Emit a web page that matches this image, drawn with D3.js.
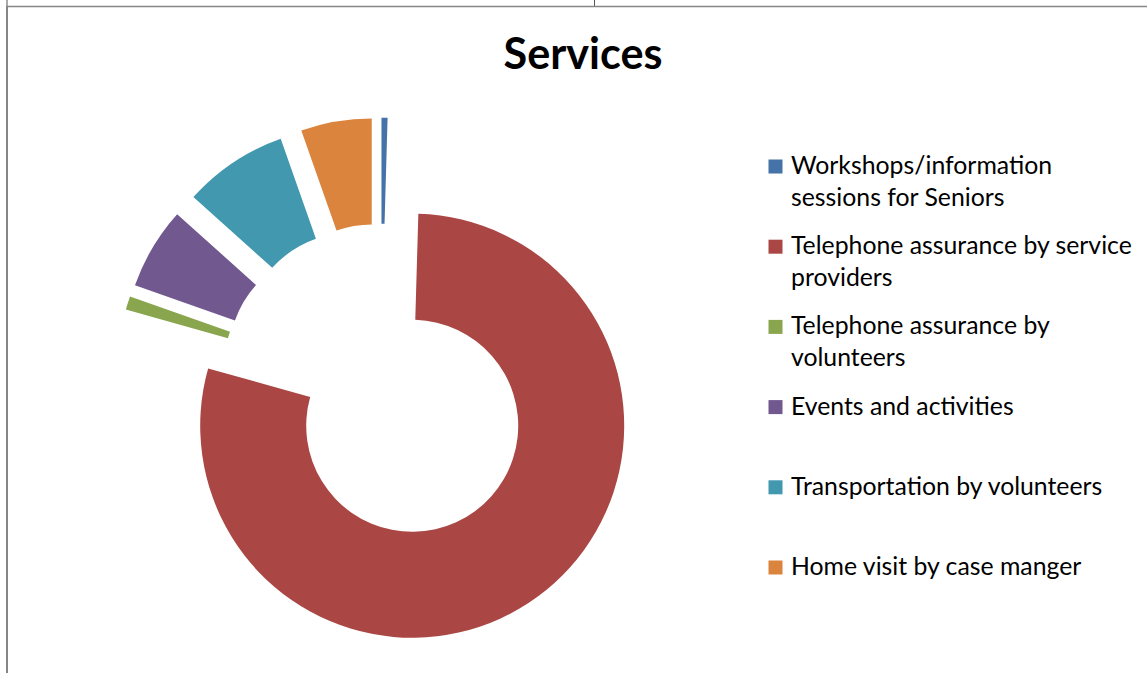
<!DOCTYPE html>
<html>

<head>
    <meta charset=utf-8 />
    <script src="https://cdn.jsdelivr.net/npm/d3@7"></script>
    <title>Services</title>
    <style>
        html,
        body {
            margin: 0;
            padding: 0;
            background: #fff;
        }

        svg {
            display: block;
        }

        text {
            font-family: Lato, "Liberation Sans", sans-serif;
        }
    </style>
</head>

<body>
    <div id="svg-canvas"></div>
    <script>
        // data (share of services, %)
        var categories = [
            'Workshops/information sessions for Seniors',
            'Telephone assurance by service providers',
            'Telephone assurance by volunteers',
            'Events and activities',
            'Transportation by volunteers',
            'Home visit by case manger'
        ];
        var values = [0.46, 78.90, 1.03, 6.25, 7.97, 5.39];
        var colors = ['#4572A7', '#AA4643', '#89A54E', '#71588F', '#4198AF', '#DB843D'];
        var title = 'Services';
    </script>
    <script>
        var width = 1147;
        var height = 673;

        var svg = d3.select('#svg-canvas').append('svg')
            .attr('width', width)
            .attr('height', height)

        // worksheet grid + chart frame
        svg.append('line')
            .attr('x1', 7).attr('x2', 7).attr('y1', 0).attr('y2', 6)
            .attr('stroke', '#555').attr('stroke-width', 1)
        svg.append('line')
            .attr('x1', 594.5).attr('x2', 594.5).attr('y1', 0).attr('y2', 6)
            .attr('stroke', '#555').attr('stroke-width', 1)
        svg.append('line')
            .attr('x1', 6).attr('x2', width).attr('y1', 6.5).attr('y2', 6.5)
            .attr('stroke', '#868686').attr('stroke-width', 1.5)
        svg.append('line')
            .attr('x1', 7).attr('x2', 7).attr('y1', 6).attr('y2', height)
            .attr('stroke', '#868686').attr('stroke-width', 2)

        // title, fitted to the reference width
        var titleText = svg.append('text')
            .attr('x', 583)
            .attr('y', 69)
            .attr('text-anchor', 'middle')
            .attr('font-weight', 'bold')
            .attr('font-size', 40)
            .attr('fill', '#000')
            .text(title)
        var tw = titleText.node().getComputedTextLength();
        titleText.attr('font-size', 40 * 159 / tw);

        // exploded doughnut
        var cx = 380.7, cy = 382.9;
        var outerR = 212, innerR = 106, explode = 53.2;

        var pie = d3.pie().sort(null).value(d => d);
        var arc = d3.arc().innerRadius(innerR).outerRadius(outerR);
        var arcs = pie(values);

        var g = svg.append('g')
            .attr('transform', `translate(${cx}, ${cy})`)

        g.selectAll('path')
            .data(arcs)
            .enter().append('path')
            .attr('d', arc)
            .attr('fill', (d, i) => colors[i])
            .attr('transform', d => {
                var a = (d.startAngle + d.endAngle) / 2;
                return `translate(${explode * Math.sin(a)}, ${-explode * Math.cos(a)})`;
            })

        // legend
        var legendY = d3.scaleLinear().domain([0, categories.length - 1]).range([174, 575]);
        var legend = svg.append('g');

        // fit font size so the longest wrapped line matches the reference
        var probe = legend.append('text').attr('font-size', 22).text('Telephone assurance by service');
        var fontSize = 22 * 341 / probe.node().getComputedTextLength();
        probe.attr('font-size', fontSize);
        var maxLine = 346;

        function measure(s) {
            probe.text(s);
            return probe.node().getComputedTextLength();
        }

        function wrap(name) {
            var lines = [];
            var line = [];
            name.split(' ').forEach(function (w) {
                var test = line.concat([w]).join(' ');
                if (line.length && measure(test) > maxLine) {
                    lines.push(line.join(' '));
                    line = [w];
                } else {
                    line.push(w);
                }
            });
            lines.push(line.join(' '));
            return lines;
        }

        var wrapped = categories.map(wrap);
        probe.remove();

        categories.forEach(function (name, i) {
            var y = legendY(i);
            legend.append('rect')
                .attr('x', 768.5)
                .attr('y', y - 14.5)
                .attr('width', 14)
                .attr('height', 14)
                .attr('fill', colors[i])

            var t = legend.append('text')
                .attr('font-size', fontSize)
                .attr('fill', '#000')

            t.selectAll('tspan')
                .data(wrapped[i])
                .enter().append('tspan')
                .attr('x', 791)
                .attr('y', (d, j) => y + j * 32)
                .text(d => d)
        });
    </script>
</body>

</html>
